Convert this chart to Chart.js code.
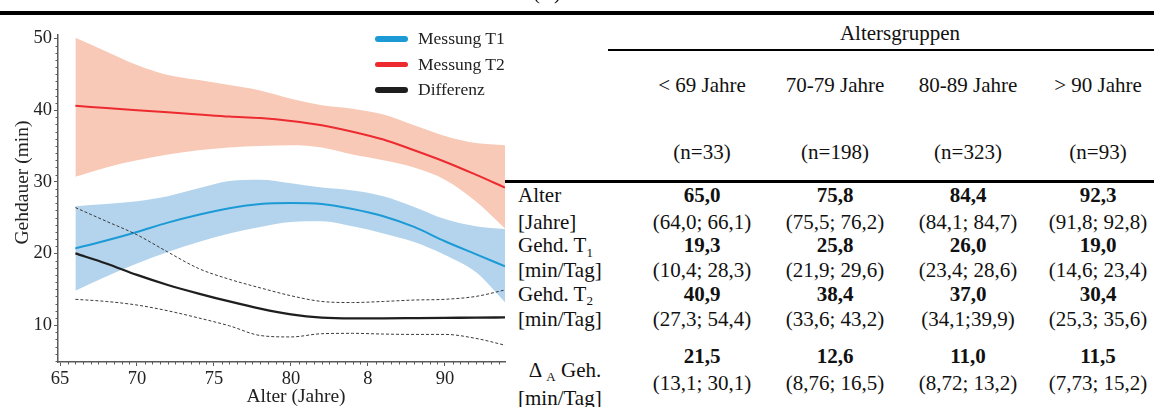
<!DOCTYPE html>
<html lang="de">
<head>
<meta charset="utf-8">
<title>Gehdauer nach Alter</title>
<script src="https://cdn.jsdelivr.net/npm/chart.js@4.4.1/dist/chart.umd.min.js"></script>
<style>
  html, body { margin: 0; padding: 0; background: #fff; }
  body {
    width: 1154px; height: 407px; position: relative; overflow: hidden;
    font-family: "Liberation Serif", "Times New Roman", serif; color: #111;
  }
  #plot { position: absolute; left: 0; top: 0; }
  .rule { position: absolute; background: #000; }
  .t { position: absolute; white-space: nowrap; font-size: 21px; line-height: 20px; height: 20px; }
  .c { transform: translateX(-50%); }
  .b { font-weight: bold; }
  sub { font-size: 62%; vertical-align: baseline; position: relative; top: 0.35em; line-height: 0; }
  #key { position: absolute; left: 375px; top: 26px; font-size: 17.5px; color: #222; }
  .key-item { display: flex; align-items: center; height: 25.5px; line-height: 25.5px; }
  .key-swatch { width: 33px; height: 5.5px; border-radius: 3px; margin-right: 10px; }
</style>
</head>
<body>
<canvas id="plot" width="510" height="407"></canvas>
<div id="key"></div>
<div id="table"></div>

<script>
// ---- curve data (age in years, walking time in min/day) ----
const ages      = [66, 68, 70, 72, 74, 76, 78, 80, 82, 84, 86, 88, 90, 92, 93.9];
const t1Mean    = [20.7, 21.8, 23.0, 24.3, 25.4, 26.3, 26.9, 27.05, 26.9, 26.2, 25.2, 23.7, 21.7, 19.9, 18.2];
const t1Upper   = [26.6, 26.9, 27.3, 28.0, 29.1, 30.1, 30.3, 29.8, 29.2, 28.8, 28.0, 26.5, 24.8, 23.8, 23.4];
const t1Lower   = [14.8, 16.8, 18.6, 20.2, 21.6, 22.8, 23.7, 24.4, 24.5, 23.8, 22.8, 21.6, 19.8, 17.4, 13.2];
const t2Mean    = [40.6, 40.3, 40.0, 39.7, 39.4, 39.1, 38.9, 38.5, 37.9, 37.0, 35.9, 34.4, 32.8, 31.0, 29.2];
const t2Upper   = [50.1, 48.2, 46.3, 44.9, 44.2, 43.5, 42.75, 41.6, 40.7, 40.2, 39.4, 37.9, 36.4, 35.4, 35.1];
const t2Lower   = [30.7, 32.0, 33.0, 33.8, 34.4, 34.8, 35.0, 35.1, 34.8, 33.8, 33.0, 32.0, 30.3, 27.3, 23.5];
const diffMean  = [20.0, 18.6, 17.0, 15.6, 14.4, 13.3, 12.3, 11.5, 11.05, 10.95, 10.95, 10.97, 11.0, 11.05, 11.07];
const diffUpper = [26.4, 24.5, 22.6, 20.2, 17.9, 16.4, 15.2, 14.1, 13.3, 13.15, 13.3, 13.5, 13.6, 14.0, 14.9];
const diffLower = [13.6, 13.3, 12.8, 12.0, 11.0, 9.9, 8.55, 8.35, 8.8, 8.85, 8.75, 8.7, 8.7, 8.15, 7.2];

// ---- axis ticks ----
const xTickValues = [65, 70, 75, 80, 85, 90];
const xTickLabels = ['65', '70', '75', '80', '8', '90'];
const yTickValues = [10, 20, 30, 40, 50];
const yTickLabels = ['10', '20', '30', '40', '50'];

// ---- table content ----
const groupLabels = ['< 69 Jahre', '70-79 Jahre', '80-89 Jahre', '> 90 Jahre'];
const groupN      = ['(n=33)', '(n=198)', '(n=323)', '(n=93)'];
const ageMedian   = ['65,0', '75,8', '84,4', '92,3'];
const ageRange    = ['(64,0; 66,1)', '(75,5; 76,2)', '(84,1; 84,7)', '(91,8; 92,8)'];
const t1Median    = ['19,3', '25,8', '26,0', '19,0'];
const t1Range     = ['(10,4; 28,3)', '(21,9; 29,6)', '(23,4; 28,6)', '(14,6; 23,4)'];
const t2Median    = ['40,9', '38,4', '37,0', '30,4'];
const t2Range     = ['(27,3; 54,4)', '(33,6; 43,2)', '(34,1;39,9)', '(25,3; 35,6)'];
const diffMedian  = ['21,5', '12,6', '11,0', '11,5'];
const diffRange   = ['(13,1; 30,1)', '(8,76; 16,5)', '(8,72; 13,2)', '(7,73; 15,2)'];

// ---- colours ----
const BLUE = '#1c9ad6';
const RED = '#ec2a30';
const BLACK = '#1e1e1e';
const BLUE_BAND = '#b3d4ec';
const RED_BAND = '#f8c9b6';
const AXIS = '#5a5a5a';
const NONE = 'rgba(0,0,0,0)';
const SERIF = '"Liberation Serif", "Times New Roman", serif';

const pts = arr => ages.map((a, i) => ({ x: a, y: arr[i] }));
const curve = { pointRadius: 0, pointHoverRadius: 0, cubicInterpolationMode: 'monotone', fill: false };

// minor tick marks and the two axis titles
const axisExtras = {
  id: 'axisExtras',
  afterDraw(chart) {
    const { ctx, chartArea, scales: { x, y } } = chart;
    ctx.save();
    ctx.strokeStyle = AXIS;
    ctx.lineWidth = 1;
    for (let v = 5; v <= 50; v += 1) {
      if (yTickValues.includes(v)) continue;
      const py = Math.round(y.getPixelForValue(v)) + 0.5;
      ctx.beginPath();
      ctx.moveTo(chartArea.left, py);
      ctx.lineTo(chartArea.left - 2.5, py);
      ctx.stroke();
    }
    for (let v = 65; v <= 93.5; v += 0.5) {
      if (xTickValues.includes(v)) continue;
      const px = Math.round(x.getPixelForValue(v)) + 0.5;
      ctx.beginPath();
      ctx.moveTo(px, chartArea.bottom);
      ctx.lineTo(px, chartArea.bottom + 2.5);
      ctx.stroke();
    }
    ctx.fillStyle = '#222';
    ctx.font = '19.5px ' + SERIF;
    ctx.textAlign = 'center';
    ctx.textBaseline = 'alphabetic';
    ctx.fillText('Alter (Jahre)', 296, 401.5);
    ctx.translate(28, 182.5);
    ctx.rotate(-Math.PI / 2);
    ctx.fillText('Gehdauer (min)', 0, 0);
    ctx.restore();
  }
};

const chart = new Chart(document.getElementById('plot'), {
  type: 'line',
  data: {
    datasets: [
      { ...curve, label: 'Messung T1', data: pts(t1Mean), borderColor: BLUE, borderWidth: 2, order: 3, inKey: true },
      { ...curve, label: 'Messung T2', data: pts(t2Mean), borderColor: RED, borderWidth: 2, order: 3, inKey: true },
      { ...curve, label: 'Differenz', data: pts(diffMean), borderColor: BLACK, borderWidth: 2.3, order: 2, inKey: true },
      { ...curve, label: 'Differenz obere Grenze', data: pts(diffUpper), borderColor: '#3a3a3a', borderWidth: 1, borderDash: [3, 2], order: 2 },
      { ...curve, label: 'Differenz untere Grenze', data: pts(diffLower), borderColor: '#3a3a3a', borderWidth: 1, borderDash: [3, 2], order: 2 },
      { ...curve, label: 'T2 obere Grenze', data: pts(t2Upper), borderColor: NONE, borderWidth: 0, fill: '+1', backgroundColor: RED_BAND, order: 10 },
      { ...curve, label: 'T2 untere Grenze', data: pts(t2Lower), borderColor: NONE, borderWidth: 0, order: 10 },
      { ...curve, label: 'T1 obere Grenze', data: pts(t1Upper), borderColor: NONE, borderWidth: 0, fill: '+1', backgroundColor: BLUE_BAND, order: 9 },
      { ...curve, label: 'T1 untere Grenze', data: pts(t1Lower), borderColor: NONE, borderWidth: 0, order: 9 }
    ]
  },
  options: {
    responsive: false,
    animation: false,
    devicePixelRatio: 1,
    events: [],
    layout: { padding: { left: 0, right: 5, top: 35, bottom: 0 } },
    plugins: { legend: { display: false }, tooltip: { enabled: false } },
    scales: {
      x: {
        type: 'linear',
        min: 64.87,
        max: 93.9,
        afterFit: s => { s.height = 45; },
        afterBuildTicks: s => { s.ticks = xTickValues.map(v => ({ value: v })); },
        ticks: {
          autoSkip: false, maxRotation: 0, padding: 2, color: '#222',
          font: { family: SERIF, size: 18.5 },
          callback: v => xTickLabels[xTickValues.indexOf(v)]
        },
        grid: { display: true, drawOnChartArea: false, drawTicks: true, tickLength: 4, tickColor: AXIS, tickWidth: 1 },
        border: { display: true, color: AXIS, width: 1.5 }
      },
      y: {
        type: 'linear',
        min: 4.85,
        max: 50.49,
        afterFit: s => { s.width = 58; },
        afterBuildTicks: s => { s.ticks = yTickValues.map(v => ({ value: v })); },
        ticks: {
          autoSkip: false, padding: 2, color: '#222',
          font: { family: SERIF, size: 18.5 },
          callback: v => yTickLabels[yTickValues.indexOf(v)]
        },
        grid: { display: true, drawOnChartArea: false, drawTicks: true, tickLength: 4, tickColor: AXIS, tickWidth: 1 },
        border: { display: true, color: AXIS, width: 1.5 }
      }
    }
  },
  plugins: [axisExtras]
});

// key for the three curves
const key = document.getElementById('key');
chart.data.datasets.filter(d => d.inKey).forEach(d => {
  const item = document.createElement('div');
  item.className = 'key-item';
  item.innerHTML = '<span class="key-swatch" style="background:' + d.borderColor + '"></span>' + d.label;
  key.appendChild(item);
});

// ---- table ----
const table = document.getElementById('table');
function put(html, x, yCenter, opts = {}) {
  const el = document.createElement('div');
  el.className = 't' + (opts.center ? ' c' : '') + (opts.bold ? ' b' : '');
  el.style.left = x + 'px';
  el.style.top = (yCenter - 10) + 'px';
  el.innerHTML = html;
  table.appendChild(el);
}
function rule(x, y, w, h) {
  const el = document.createElement('div');
  el.className = 'rule';
  Object.assign(el.style, { left: x + 'px', top: y + 'px', width: w + 'px', height: h + 'px' });
  table.appendChild(el);
}
const esc = s => s.replace(/&/g, '&amp;').replace(/</g, '&lt;').replace(/>/g, '&gt;');
const colX = [702, 835, 968, 1098];

rule(0, 11, 1154, 4);
put('(B)', 547, -8, { center: true });
put('Altersgruppen', 900, 33, { center: true });
rule(608, 49, 546, 2);
groupLabels.forEach((g, i) => put(esc(g), colX[i], 85, { center: true }));
groupN.forEach((n, i) => put(n, colX[i], 152, { center: true }));
rule(505, 180, 649, 3);

const rows = [
  { label: 'Alter', y: 195, vals: ageMedian, bold: true },
  { label: '[Jahre]', y: 221.5, vals: ageRange },
  { label: 'Gehd. T<sub>1</sub>', y: 245, vals: t1Median, bold: true },
  { label: '[min/Tag]', y: 270, vals: t1Range },
  { label: 'Gehd. T<sub>2</sub>', y: 293.5, vals: t2Median, bold: true },
  { label: '[min/Tag]', y: 318.5, vals: t2Range },
  { label: '', y: 355.5, vals: diffMedian, bold: true },
  { label: '', y: 382.5, vals: diffRange }
];
rows.forEach(r => {
  if (r.label) put(r.label, 518, r.y);
  r.vals.forEach((v, i) => put(v, colX[i], r.y, { center: true, bold: r.bold }));
});
put('&Delta; <sub>A</sub> Geh.', 565, 369.5, { center: true });
put('[min/Tag]', 518, 398);
</script>
</body>
</html>
